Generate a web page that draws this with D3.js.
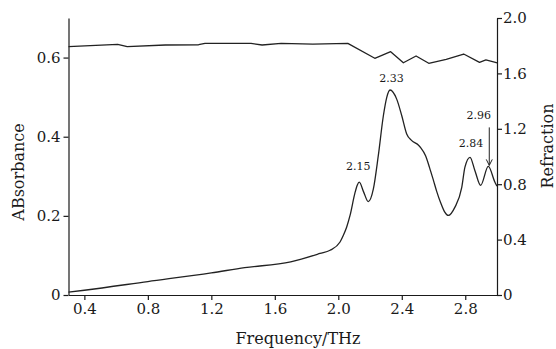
<!DOCTYPE html>
<html>
<head>
<meta charset="utf-8">
<script src="https://cdn.jsdelivr.net/npm/d3@7"></script>
<style>
  html, body { margin: 0; padding: 0; background: #fff; }
  svg { display: block; font-family: "DejaVu Serif", "Liberation Serif", serif; }
  .axis path, .axis line { stroke: #1a1a1a; stroke-width: 1.2; }
  .axis text { font-size: 15px; fill: #1a1a1a; font-family: "DejaVu Serif", serif; }
</style>
</head>
<body>
<div id="chart"></div>
<script>
// absorbance spectrum (left axis)
const absFreq = [0.30, 0.40, 0.80, 1.20, 1.41, 1.70, 1.885, 1.948, 2.011, 2.032, 2.053, 2.074, 2.105, 2.12, 2.132, 2.16, 2.189, 2.221, 2.252, 2.284, 2.305, 2.326, 2.368, 2.40, 2.431, 2.463, 2.504, 2.52, 2.55, 2.575, 2.60, 2.62, 2.645, 2.67, 2.693, 2.735, 2.778, 2.798, 2.83, 2.861, 2.897, 2.945, 2.987, 3.0];
const absValues = [0.007, 0.012, 0.034, 0.056, 0.069, 0.084, 0.105, 0.113, 0.134, 0.151, 0.172, 0.201, 0.258, 0.278, 0.285, 0.26, 0.236, 0.268, 0.352, 0.453, 0.499, 0.518, 0.495, 0.453, 0.407, 0.39, 0.379, 0.372, 0.352, 0.322, 0.289, 0.262, 0.233, 0.21, 0.201, 0.222, 0.272, 0.323, 0.348, 0.314, 0.277, 0.325, 0.285, 0.275];

// refraction index (right axis)
const refFreq = [0.30, 0.61, 0.67, 0.91, 1.12, 1.16, 1.45, 1.52, 1.64, 1.84, 2.06, 2.23, 2.33, 2.41, 2.49, 2.57, 2.68, 2.79, 2.89, 2.93, 2.99, 3.0];
const refValues = [1.793, 1.81, 1.793, 1.805, 1.807, 1.817, 1.817, 1.805, 1.817, 1.812, 1.817, 1.709, 1.757, 1.677, 1.726, 1.673, 1.702, 1.74, 1.68, 1.697, 1.68, 1.676];

const xTicks = [0.4, 0.8, 1.2, 1.6, 2.0, 2.4, 2.8];
const absTicks = [0, 0.2, 0.4, 0.6];
const refTicks = [0, 0.4, 0.8, 1.2, 1.6, 2.0];

// peak annotations: where the peak sits and what it says
const peakFreq = [2.132, 2.326, 2.83, 2.945];
const peakAbs = [0.285, 0.518, 0.348, 0.325];
const peakLabels = ["2.15", "2.33", "2.84", "2.96"];

const width = 556;
const height = 349;
const margin = { top: 18, right: 59, bottom: 54, left: 68.5 };
const innerWidth = width - margin.left - margin.right;
const innerHeight = height - margin.top - margin.bottom;

const x = d3.scaleLinear().domain([0.3, 3.0]).range([0, innerWidth]);
const yAbs = d3.scaleLinear().domain([0, 0.7]).range([innerHeight, 0]);
const yRef = d3.scaleLinear().domain([0, 2.0]).range([innerHeight, 0]);

const fmt = (d) => (d === 0 ? "0" : d3.format(".1f")(d));

const svg = d3.select("#chart")
  .append("svg")
  .attr("width", width)
  .attr("height", height);

const root = svg.append("g")
  .attr("transform", `translate(${margin.left},${margin.top})`);

// axes
root.append("g")
  .attr("class", "axis")
  .attr("transform", `translate(0,${innerHeight})`)
  .call(d3.axisBottom(x).tickValues(xTicks).tickFormat(fmt).tickSize(5).tickSizeOuter(0).tickPadding(3));

root.append("g")
  .attr("class", "axis")
  .call(d3.axisLeft(yAbs).tickValues(absTicks).tickFormat(fmt).tickSize(5).tickSizeOuter(0).tickPadding(3));

root.append("g")
  .attr("class", "axis")
  .attr("transform", `translate(${innerWidth},0)`)
  .call(d3.axisRight(yRef).tickValues(refTicks).tickFormat(fmt).tickSize(5).tickSizeOuter(0).tickPadding(1));

// axis titles
svg.append("text")
  .attr("x", 298)
  .attr("y", 344)
  .attr("text-anchor", "middle")
  .attr("font-size", 16)
  .attr("fill", "#1a1a1a")
  .text("Frequency/THz");

svg.append("text")
  .attr("transform", "translate(24,172) rotate(-90)")
  .attr("text-anchor", "middle")
  .attr("font-size", 16)
  .attr("fill", "#1a1a1a")
  .text("ABsorbance");

svg.append("text")
  .attr("transform", "translate(553,146) rotate(-90)")
  .attr("text-anchor", "middle")
  .attr("font-size", 16)
  .attr("fill", "#1a1a1a")
  .text("Refraction");

// series
const absLine = d3.line()
  .x((d, i) => x(absFreq[i]))
  .y((d) => yAbs(d))
  .curve(d3.curveMonotoneX);

const refLine = d3.line()
  .x((d, i) => x(refFreq[i]))
  .y((d) => yRef(d));

root.append("path")
  .attr("d", refLine(refValues))
  .attr("fill", "none")
  .attr("stroke", "#222")
  .attr("stroke-width", 1.3)
  .attr("stroke-linejoin", "round");

root.append("path")
  .attr("d", absLine(absValues))
  .attr("fill", "none")
  .attr("stroke", "#222")
  .attr("stroke-width", 1.3);

// peak labels
const labelOffsets = [
  { dx: -1, dy: -12 },
  { dx: 1.5, dy: -8 },
  { dx: 1, dy: -10.5 },
  { dx: -9.5, dy: -47.5 }
];

const labels = root.append("g").attr("font-size", 11).attr("fill", "#1a1a1a");
peakLabels.forEach((label, i) => {
  labels.append("text")
    .attr("x", x(peakFreq[i]) + labelOffsets[i].dx)
    .attr("y", yAbs(peakAbs[i]) + labelOffsets[i].dy)
    .attr("text-anchor", "middle")
    .text(label);
});

// arrow to the 2.96 peak
const ax = x(peakFreq[3]) + 1;
const ayEnd = yAbs(peakAbs[3]) - 1;
const ayStart = ayEnd - 38;
const arrow = root.append("g")
  .attr("stroke", "#222")
  .attr("stroke-width", 1)
  .attr("fill", "none");
arrow.append("line")
  .attr("x1", ax).attr("x2", ax)
  .attr("y1", ayStart).attr("y2", ayEnd);
arrow.append("path")
  .attr("d", `M${ax - 3},${ayEnd - 6}L${ax},${ayEnd}L${ax + 3},${ayEnd - 6}`);
</script>
</body>
</html>
